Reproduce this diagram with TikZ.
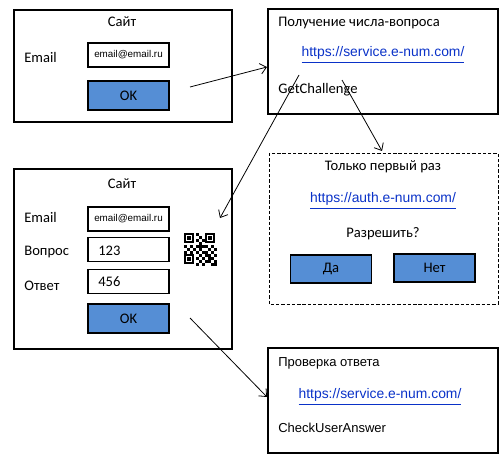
\documentclass[tikz,border=0pt]{standalone}
\usepackage{fontspec}
\setmainfont{Carlito}
\newfontfamily\arialfont{Liberation Sans}
\usetikzlibrary{arrows.meta}
\definecolor{btnblue}{RGB}{85,142,213}
\definecolor{linkblue}{RGB}{10,50,200}
\tikzset{
	frame/.style={draw=black, line width=0.6pt},
	btn/.style={draw=black, line width=0.6pt, fill=btnblue, inner sep=0pt, minimum width=1.62cm, minimum height=0.58cm, font=\fontsize{8.3}{10}\selectfont},
	field/.style={draw=black, line width=0.6pt, inner sep=0pt, minimum width=1.62cm, minimum height=0.48cm},
	lbl/.style={inner sep=0pt, font=\fontsize{8.3}{10}\selectfont},
	link/.style={inner sep=0pt, text=linkblue, font=\arialfont\fontsize{7.9}{10}\selectfont},
	arr/.style={line width=0.45pt, -{Straight Barb[length=3.5pt,width=6pt]}}
}
\begin{document}
\begin{tikzpicture}[x=0.02cm, y=-0.02cm]
	\useasboundingbox (0, 0) rectangle (502, 462);
	%%%%% START %%%%%
	% first site page
	\draw[frame] (14, 10) rectangle (232, 122);
	\node[lbl] (site1) at (122, 22) {Сайт};
	\node[lbl, anchor=west] (mail1) at (24, 57) {Email};
	\node[field] (mailbox1) at (128.5, 55) {\arialfont\fontsize{5.6}{7}\selectfont email@email.ru};
	\node[btn] (ok1) at (128.5, 95.5) {OK};
	
	% challenge service
	\draw[frame] (268, 9) rectangle (498, 114);
	\node[lbl, anchor=west] (getq) at (278, 23) {Получение числа-вопроса};
	\node[link] (url1) at (383, 55) {\underline{https://service.e-num.com/}};
	\node[lbl, anchor=west] (getch) at (278, 90) {GetChallenge};
	
	% first time only
	\draw[line width=0.5pt, dash pattern=on 1.9pt off 1.1pt] (269, 153) rectangle (498, 304);
	\node[lbl] (first) at (383, 167) {Только первый раз};
	\node[link] (url2) at (383, 201) {\underline{https://auth.e-num.com/}};
	\node[lbl] (allow) at (383, 234) {Разрешить?};
	\node[btn, minimum height=0.56cm] (yes) at (331, 269) {Да};
	\node[btn, minimum height=0.56cm] (no) at (434.5, 268) {Нет};
	
	% second site page
	\draw[frame] (14, 169) rectangle (232, 349);
	\node[lbl] (site2) at (122, 184) {Сайт};
	\node[lbl, anchor=west] (mail2) at (24, 217) {Email};
	\node[field] (mailbox2) at (128.5, 219) {\arialfont\fontsize{5.6}{7}\selectfont email@email.ru};
	\node[lbl, anchor=west] (quest) at (24, 252) {Вопрос};
	\node[field] (questbox) at (128.5, 249.5) {};
	\node[lbl, anchor=west] (qnum) at (98, 251) {123};
	\node[lbl, anchor=west] (answ) at (24, 286) {Ответ};
	\node[field] (answbox) at (128.5, 281.5) {};
	\node[lbl, anchor=west] (anum) at (98, 282) {456};
	\node[btn] (ok2) at (128.5, 318.5) {OK};
	
	% qr code
	\begin{scope}[shift={(184, 233)}]
		\foreach \cx/\cy in {0/0, 7/0, 0/7}
		{
			\draw[line width=0.9pt] (\cx*3+0.8, \cy*3+0.8) rectangle (\cx*3+9.2, \cy*3+9.2);
			\fill (\cx*3+3, \cy*3+3) rectangle (\cx*3+7, \cy*3+7);
		}
		\foreach \cx/\cy in {4/0, 5/1, 4/2, 6/2, 5/3, 4/4, 5/4, 6/4, 0/4, 2/4, 1/5, 3/5, 5/5, 7/4, 9/4, 8/5, 10/5, 4/6, 6/6, 7/6, 9/6, 0/6, 2/6, 5/7, 7/7, 8/7, 10/7, 4/8, 6/8, 8/8, 9/8, 5/9, 7/9, 8/9, 10/9, 4/10, 6/10, 9/10, 10/10}
			\fill (\cx*3, \cy*3) rectangle (\cx*3+3, \cy*3+3);
	\end{scope}
	
	% answer check service
	\draw[frame] (268, 348) rectangle (498, 453);
	\node[anchor=west, inner sep=0pt, font=\arialfont\fontsize{7.4}{9}\selectfont] (check) at (278, 363) {Проверка ответа};
	\node[link] (url3) at (380, 397) {\underline{https://service.e-num.com/}};
	\node[anchor=west, inner sep=0pt, font=\arialfont\fontsize{7.4}{9}\selectfont] (checkans) at (278, 428) {CheckUserAnswer};
	
	% arrows
	\coordinate (a1s) at (190, 87);
	\coordinate (a1e) at (267, 67);
	\coordinate (a2s) at (299, 75);
	\coordinate (a2e) at (220, 218);
	\coordinate (a3s) at (342, 80);
	\coordinate (a3e) at (382, 151);
	\coordinate (a4s) at (190, 318);
	\coordinate (a4e) at (267, 397);
	\draw[arr] (a1s) -- (a1e);
	\draw[arr] (a2s) -- (a2e);
	\draw[arr] (a3s) -- (a3e);
	\draw[arr] (a4s) -- (a4e);
	%%%%% END %%%%%
\end{tikzpicture}
\end{document}
